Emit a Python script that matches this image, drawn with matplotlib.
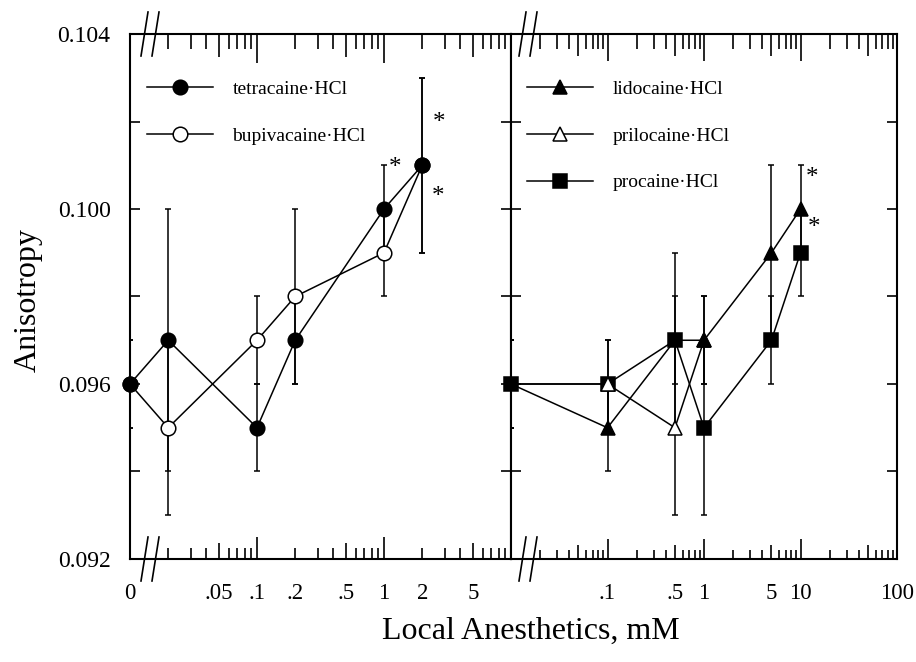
import numpy as np
import matplotlib
matplotlib.use("Agg")
import matplotlib.pyplot as plt
from matplotlib.lines import Line2D
from matplotlib.ticker import NullLocator

plt.rcParams['font.family'] = ['Liberation Serif', 'DejaVu Serif']

# concentrations in mM (0 = control, drawn at the left edge of each panel)
left_conc = [0, 0.02, 0.1, 0.2, 1, 2]
tetracaine = [0.096, 0.097, 0.095, 0.097, 0.100, 0.101]
tetracaine_err = [0.001, 0.003, 0.001, 0.001, 0.001, 0.002]
bupivacaine = [0.096, 0.095, 0.097, 0.098, 0.099, 0.101]
bupivacaine_err = [0.001, 0.002, 0.001, 0.002, 0.001, 0.002]

right_conc = [0, 0.1, 0.5, 1, 5, 10]
lidocaine = [0.096, 0.095, 0.097, 0.097, 0.099, 0.100]
lidocaine_err = [0.001, 0.001, 0.001, 0.001, 0.002, 0.001]
prilocaine_conc = [0, 0.1, 0.5, 1]
prilocaine = [0.096, 0.096, 0.095, 0.097]
prilocaine_err = [0.001, 0.001, 0.002, 0.001]
procaine = [0.096, 0.096, 0.097, 0.095, 0.097, 0.099]
procaine_err = [0.001, 0.001, 0.002, 0.002, 0.001, 0.001]

left_ticks = [0.01, 0.05, 0.1, 0.2, 0.5, 1, 2, 5]
left_ticklabels = ['0', '.05', '.1', '.2', '.5', '1', '2', '5']
right_ticks = [0.1, 0.5, 1, 5, 10, 100]
right_ticklabels = ['.1', '.5', '1', '5', '10', '100']
yticks = [0.092, 0.096, 0.100, 0.104]
yticklabels = ['0.092', '0.096', '0.100', '0.104']

# asterisks (x in mM, y anisotropy)
left_stars = [(1.22, 0.10094), (2.73, 0.10197), (2.68, 0.10027)]
right_stars = [(13.2, 0.10071), (13.8, 0.09957)]

ZERO_POS = 0.01
W, H = 916, 662
AX_H = 525


def xpos(conc):
    return [ZERO_POS if c == 0 else c for c in conc]


def draw_series(ax, conc, y, err, marker, face, ms, label, every=None):
    x = xpos(conc)
    ax.errorbar(x, y, yerr=err, fmt='none', ecolor='k', elinewidth=1.1,
                capsize=2.2, capthick=1.1, zorder=2)
    ax.plot(x, y, '-', color='k', lw=1.1, marker=marker, ms=ms, mfc=face,
            mec='k', mew=1.1, markevery=every, zorder=3, clip_on=False)
    return Line2D([], [], color='k', lw=1.1, marker=marker, ms=ms, mfc=face,
                  mec='k', mew=1.1, label=label)


def draw_xticks(ax, decades, fives, others, bot, top):
    for pos, lb, lt in [(decades, bot[0], top[0]), (fives, bot[1], top[1]),
                        (others, bot[2], top[2])]:
        ax.vlines(pos, 0, lb / AX_H, transform=ax.get_xaxis_transform(),
                  color='k', lw=1.2, clip_on=False)
        ax.vlines(pos, 1 - lt / AX_H, 1, transform=ax.get_xaxis_transform(),
                  color='k', lw=1.2, clip_on=False)


def draw_break(ax, xfrac, width_px):
    dx = 3.5 / width_px
    dy = 22 / AX_H
    gap = 5.5 / width_px
    for y0 in (0, 1):
        for off in (-gap, gap):
            ax.plot([xfrac + off - dx, xfrac + off + dx], [y0 - dy, y0 + dy],
                    color='k', lw=1.2, transform=ax.transAxes, clip_on=False)


fig = plt.figure(figsize=(W / 100, H / 100), dpi=100)
ax1 = fig.add_axes([130 / W, 1 - 559 / H, 381 / W, AX_H / H])
ax2 = fig.add_axes([511 / W, 1 - 559 / H, 386 / W, AX_H / H])

# left panel
h1 = draw_series(ax1, left_conc, bupivacaine, bupivacaine_err, 'o', 'white', 10.5, 'bupivacaine·HCl')
h0 = draw_series(ax1, left_conc, tetracaine, tetracaine_err, 'o', 'black', 10.5, 'tetracaine·HCl')

# right panel
h4 = draw_series(ax2, right_conc, procaine, procaine_err, 's', 'black', 10, 'procaine·HCl')
h3 = draw_series(ax2, prilocaine_conc, prilocaine, prilocaine_err, '^', 'white', 9.5,
                 'prilocaine·HCl', every=[1, 2, 3])
h2 = draw_series(ax2, right_conc, lidocaine, lidocaine_err, '^', 'black', 9.5,
                 'lidocaine·HCl', every=[1, 3, 4, 5])

for ax, xmax, ticks, labels in [(ax1, 10, left_ticks, left_ticklabels),
                                (ax2, 100, right_ticks, right_ticklabels)]:
    ax.set_xscale('log')
    ax.set_xlim(ZERO_POS, xmax)
    ax.set_ylim(0.092, 0.104)
    ax.set_xticks(ticks, labels)
    ax.xaxis.set_minor_locator(NullLocator())
    ax.tick_params(axis='x', which='both', length=0, pad=17, labelsize=16.5)
    ax.set_yticks(yticks, yticklabels)
    ax.set_yticks([0.094, 0.098, 0.102], minor=True)
    ax.tick_params(axis='y', which='both', direction='in', length=7, width=1.2,
                   left=True, right=True, labelsize=17, pad=14)
    for s in ax.spines.values():
        s.set_linewidth(1.5)

ax2.tick_params(axis='y', labelleft=False)

others_l = [k * 10.0 ** e for e in (-2, -1, 0) for k in (2, 3, 4, 6, 7, 8, 9)]
others_r = [k * 10.0 ** e for e in (-2, -1, 0, 1) for k in (2, 3, 4, 6, 7, 8, 9)]
draw_xticks(ax1, [0.1, 1], [0.05, 0.5, 5], others_l, (22, 16, 11), (29, 23, 15))
draw_xticks(ax2, [0.1, 1, 10], [0.05, 0.5, 5, 50], others_r, (20, 14, 9), (27, 22, 15))

draw_break(ax1, (150 - 130) / 381, 381)
draw_break(ax2, (528 - 511) / 386, 386)

for ax, stars in [(ax1, left_stars), (ax2, right_stars)]:
    for sx, sy in stars:
        ax.text(sx, sy, '*', fontsize=18, ha='center', va='center')

leg_kw = dict(loc='upper left', frameon=False, fontsize=14, handlelength=3.4,
              handletextpad=1.0, labelspacing=1.5, borderpad=0, borderaxespad=0)
ax1.legend(handles=[h0, h1], bbox_to_anchor=((147 - 130) / 381, 0.912), **leg_kw)
ax2.legend(handles=[h2, h3, h4], bbox_to_anchor=((527 - 511) / 386, 0.912), **leg_kw)

fig.text(28 / W, 1 - 300 / H, 'Anisotropy', rotation=90, fontsize=23,
         ha='center', va='center')
fig.text(531 / W, 1 - 631 / H, 'Local Anesthetics, mM', fontsize=23,
         ha='center', va='center')

fig.savefig('out.png', dpi=100)
